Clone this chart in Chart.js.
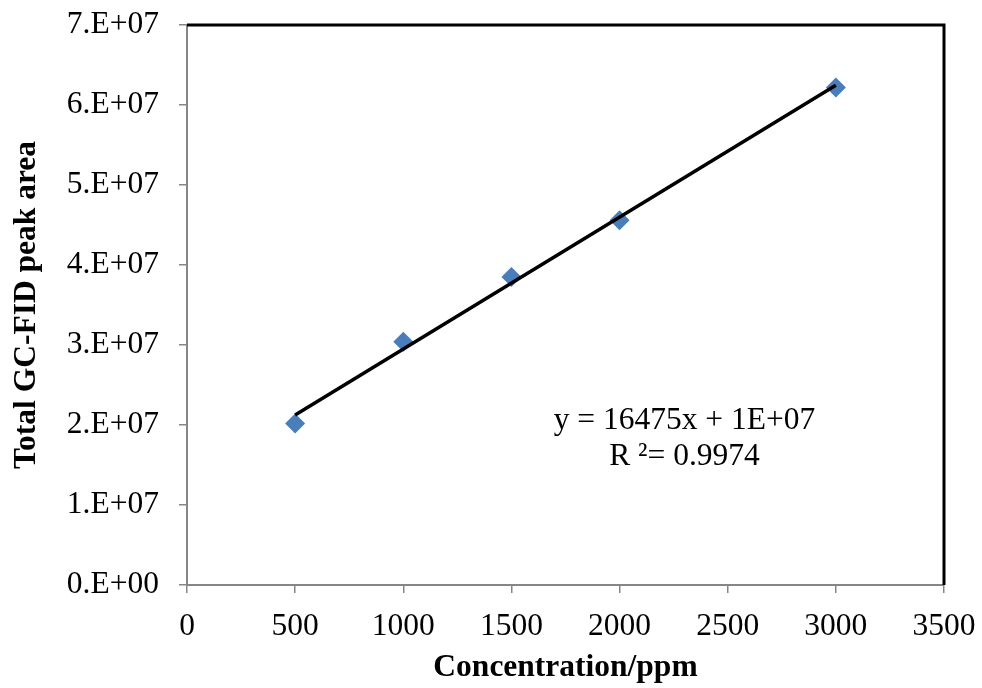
<!DOCTYPE html>
<html>
<head>
<meta charset="utf-8">
<script src="https://cdn.jsdelivr.net/npm/chart.js@4.4.1/dist/chart.umd.min.js"></script>
<style>
  html, body { margin: 0; padding: 0; background: #fff; }
  #wrap { width: 982px; height: 688px; }
</style>
</head>
<body>
<div id="wrap"><canvas id="calib"></canvas></div>
<script>
// calibration standards: concentration (ppm) vs total GC-FID peak area
const concentrations = [500, 1000, 1500, 2000, 3000];
const peakAreas = [2.02e7, 3.04e7, 3.85e7, 4.56e7, 6.22e7];
const xTicks = [0, 500, 1000, 1500, 2000, 2500, 3000, 3500];
const yTicks = [0, 1e7, 2e7, 3e7, 4e7, 5e7, 6e7, 7e7];
const fitLabel = "y = 16475x + 1E+07";
const r2Label = "R \u00B2= 0.9974";

// least squares line through the standards
const n = concentrations.length;
const mx = concentrations.reduce((a, b) => a + b, 0) / n;
const my = peakAreas.reduce((a, b) => a + b, 0) / n;
let sxy = 0, sxx = 0;
concentrations.forEach((x, i) => {
  sxy += (x - mx) * (peakAreas[i] - my);
  sxx += (x - mx) * (x - mx);
});
const slope = sxy / sxx;
const intercept = my - slope * mx;
const xMin = Math.min(...concentrations), xMax = Math.max(...concentrations);
const fitLine = [
  { x: xMin, y: intercept + slope * xMin },
  { x: xMax, y: intercept + slope * xMax }
];

const serif = "'Liberation Serif', 'Times New Roman', serif";
const axisGray = "#868686";
const fontSize = 31.5;

// "7.E+07" style labels
const sciLabel = v => {
  if (v === 0) return "0.E+00";
  const e = Math.floor(Math.log10(v));
  const m = Math.round(v / Math.pow(10, e));
  return m + ".E+" + String(e).padStart(2, "0");
};

// black frame on top and right of the plot area, plus the fit equation
const framePlugin = {
  id: "frame",
  afterDraw(chart) {
    const { ctx, chartArea: a, scales } = chart;
    ctx.save();
    ctx.strokeStyle = "#000";
    ctx.lineWidth = 3;
    ctx.beginPath();
    ctx.moveTo(a.left, a.top);
    ctx.lineTo(a.right, a.top);
    ctx.lineTo(a.right, a.bottom);
    ctx.stroke();

    ctx.fillStyle = "#000";
    ctx.font = fontSize + "px " + serif;
    ctx.textAlign = "center";
    ctx.textBaseline = "middle";
    const cx = scales.x.getPixelForValue(2300);
    ctx.fillText(fitLabel, cx, scales.y.getPixelForValue(2.05e7));
    ctx.fillText(r2Label, cx, scales.y.getPixelForValue(1.6e7));
    ctx.restore();
  }
};

new Chart(document.getElementById("calib"), {
  type: "scatter",
  data: {
    datasets: [
      {
        label: "Standards",
        data: concentrations.map((c, i) => ({ x: c, y: peakAreas[i] })),
        pointStyle: "rectRot",
        pointRadius: 10,
        pointHoverRadius: 10,
        backgroundColor: "#4a7ebb",
        borderColor: "#4a7ebb",
        borderWidth: 0,
        order: 2
      },
      {
        label: "Linear fit",
        type: "line",
        data: fitLine,
        borderColor: "#000",
        borderWidth: 3.5,
        pointRadius: 0,
        fill: false,
        order: 1
      }
    ]
  },
  options: {
    responsive: true,
    maintainAspectRatio: false,
    animation: false,
    layout: { padding: { top: 25, right: 38, left: 0, bottom: 0 } },
    plugins: {
      legend: { display: false },
      tooltip: { enabled: false }
    },
    scales: {
      x: {
        type: "linear",
        min: 0,
        max: 3500,
        afterBuildTicks: s => { s.ticks = xTicks.map(v => ({ value: v })); },
        afterFit: s => {
          s.height = 103;
          s.paddingLeft = 0;
          s.paddingRight = 0;
        },
        grid: { drawOnChartArea: false, drawTicks: true, tickLength: 8, color: axisGray, lineWidth: 1.5 },
        border: { color: axisGray, width: 2 },
        ticks: { color: "#000", font: { family: serif, size: fontSize }, padding: 15, maxRotation: 0, callback: v => String(v) },
        title: {
          display: true,
          text: "Concentration/ppm",
          color: "#000",
          font: { family: serif, size: fontSize, weight: "bold" },
          padding: { top: 0, bottom: 1 }
        }
      },
      y: {
        type: "linear",
        min: 0,
        max: 7e7,
        afterBuildTicks: s => { s.ticks = yTicks.map(v => ({ value: v })); },
        afterFit: s => {
          s.width = 187;
          s.paddingTop = 0;
          s.paddingBottom = 0;
        },
        grid: { drawOnChartArea: false, drawTicks: true, tickLength: 8, color: axisGray, lineWidth: 1.5 },
        border: { color: axisGray, width: 2 },
        ticks: { color: "#000", font: { family: serif, size: fontSize }, padding: 20, callback: v => sciLabel(v) },
        title: {
          display: true,
          text: "Total GC-FID peak area",
          color: "#000",
          font: { family: serif, size: fontSize, weight: "bold" },
          padding: { top: 8, bottom: 0 }
        }
      }
    }
  },
  plugins: [framePlugin]
});
</script>
</body>
</html>
